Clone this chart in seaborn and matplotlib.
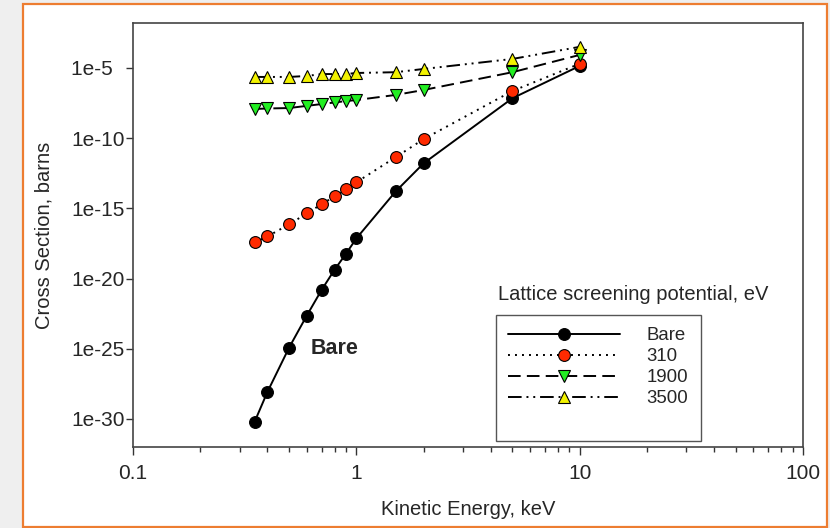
import matplotlib
matplotlib.use("Agg")
import matplotlib.pyplot as plt
import matplotlib.ticker as mticker
from matplotlib.lines import Line2D
from matplotlib.patches import Rectangle
import pandas as pd
import seaborn as sns

# ---- data ----
energy_kev = [0.35, 0.4, 0.5, 0.6, 0.7, 0.8, 0.9, 1.0, 1.5, 2.0, 5.0, 10.0]
xs_bare = [6e-31, 8.5e-29, 1.2e-25, 2.3e-23, 1.6e-21, 4.4e-20, 6e-19, 7.2e-18,
           1.6e-14, 1.6e-12, 7e-8, 1.4e-5]
xs_310 = [3.7e-18, 1e-17, 7.2e-17, 4.4e-16, 2e-15, 7.2e-15, 2.3e-14, 7.2e-14,
          4.4e-12, 8.5e-11, 2.3e-7, 2e-5]
xs_1900 = [1.2e-8, 1.3e-8, 1.4e-8, 2e-8, 2.7e-8, 3.5e-8, 4.4e-8, 5.2e-8,
           1.2e-7, 2.7e-7, 5e-6, 8.5e-5]
xs_3500 = [2.3e-6, 2.3e-6, 2.3e-6, 2.7e-6, 3.7e-6, 3.7e-6, 3.7e-6, 4.4e-6,
           5e-6, 8.5e-6, 4.4e-5, 3.2e-4]
series_names = ["Bare", "310", "1900", "3500"]
series_values = [xs_bare, xs_310, xs_1900, xs_3500]
ytick_values = [1e-30, 1e-25, 1e-20, 1e-15, 1e-10, 1e-5]
ytick_labels = ["1e-30", "1e-25", "1e-20", "1e-15", "1e-10", "1e-5  "]
xtick_values = [0.1, 1, 10, 100]
xtick_labels = ["0.1", "1", "10", "100"]

# ---- styles ----
face_colors = {"Bare": "#000000", "310": "#ff2a00", "1900": "#22ee22", "3500": "#f2f200"}
markers = {"Bare": "o", "310": "o", "1900": "v", "3500": "^"}
msizes = {"Bare": 8.5, "310": 8.5, "1900": 9, "3500": 9}
lstyles = {"Bare": "-", "310": (0, (1, 2.6)), "1900": (0, (6.5, 3.2)),
           "3500": (0, (7, 2.5, 1, 2.5, 1, 2.5))}

sns.set_style("ticks")
plt.rcParams["font.family"] = ["Liberation Sans", "DejaVu Sans"]
text_color = "#262626"
plt.rcParams["text.color"] = text_color
plt.rcParams["axes.labelcolor"] = text_color
plt.rcParams["xtick.color"] = "#333333"
plt.rcParams["ytick.color"] = "#333333"
plt.rcParams["xtick.labelcolor"] = text_color
plt.rcParams["ytick.labelcolor"] = text_color

fig = plt.figure(figsize=(8.30, 5.28), dpi=100, facecolor="#efefef")
# white panel with orange border (behind the axes)
fig.patches.append(Rectangle((23 / 830, 1 - 527 / 528), (827 - 23) / 830, (527 - 4) / 528,
                             transform=fig.transFigure, facecolor="white",
                             edgecolor="#ed7d31", linewidth=1.6, zorder=-10))
ax = fig.add_axes([133 / 830, 1 - 447 / 528, (803 - 133) / 830, (447 - 23) / 528])
ax.set_facecolor("white")
ax.set_zorder(1)

df = pd.DataFrame({"energy": energy_kev * len(series_names),
                   "xs": [v for vals in series_values for v in vals],
                   "series": [n for n in series_names for _ in energy_kev]})

handles = []
for name in series_names:
    sub = df[df["series"] == name]
    sns.lineplot(data=sub, x="energy", y="xs", ax=ax, color="black",
                 linewidth=1.4, linestyle=lstyles[name], marker=markers[name],
                 markersize=msizes[name], markerfacecolor=face_colors[name],
                 markeredgecolor="black", markeredgewidth=0.8, label=name,
                 legend=False)
    handles.append(ax.get_lines()[-1])

ax.set_xscale("log")
ax.set_yscale("log")
ax.set_xlim(0.1, 100)
ax.set_ylim(1e-32, 1.6e-2)

ax.yaxis.set_major_locator(mticker.FixedLocator(ytick_values))
ax.yaxis.set_major_formatter(mticker.FixedFormatter(ytick_labels))
ax.yaxis.set_minor_locator(mticker.NullLocator())
ax.xaxis.set_major_locator(mticker.FixedLocator(xtick_values))
ax.xaxis.set_major_formatter(mticker.FixedFormatter(xtick_labels))
ax.xaxis.set_minor_locator(mticker.LogLocator(base=10, subs=range(2, 10)))
ax.xaxis.set_minor_formatter(mticker.NullFormatter())

ax.tick_params(axis="y", which="major", length=5, width=1, pad=1, labelsize=15)
ax.tick_params(axis="x", which="major", length=5.5, width=1, pad=7, labelsize=15)
ax.tick_params(axis="x", which="minor", length=3.5, width=1)
for sp in ax.spines.values():
    sp.set_visible(True)
    sp.set_color("#444444")
    sp.set_linewidth(1.2)

ax.set_xlabel("Kinetic Energy, keV", fontsize=14.5, labelpad=12)
ax.set_ylabel("Cross Section, barns", fontsize=14.5, labelpad=13)

ax.text(0.625, 1e-25, "Bare", fontsize=15.5, fontweight="bold", va="center", ha="left")

blank = Line2D([], [], linestyle="none", marker="none")
leg = ax.legend(handles + [blank], series_names + [" "], loc="upper left",
                bbox_to_anchor=((496 - 133) / 670, (447 - 315) / 424),
                frameon=True, fancybox=False, fontsize=13.4, handlelength=6.0,
                handletextpad=1.45, borderpad=0.65, labelspacing=0.22,
                borderaxespad=0)
leg.get_frame().set_edgecolor("#555555")
leg.get_frame().set_linewidth(1.0)
leg.get_frame().set_alpha(1)
ax.text((498 - 133) / 670, (447 - 295) / 424, "Lattice screening potential, eV",
        transform=ax.transAxes, fontsize=14.5, va="center", ha="left")

fig.savefig("out.png", dpi=100, facecolor=fig.get_facecolor())
